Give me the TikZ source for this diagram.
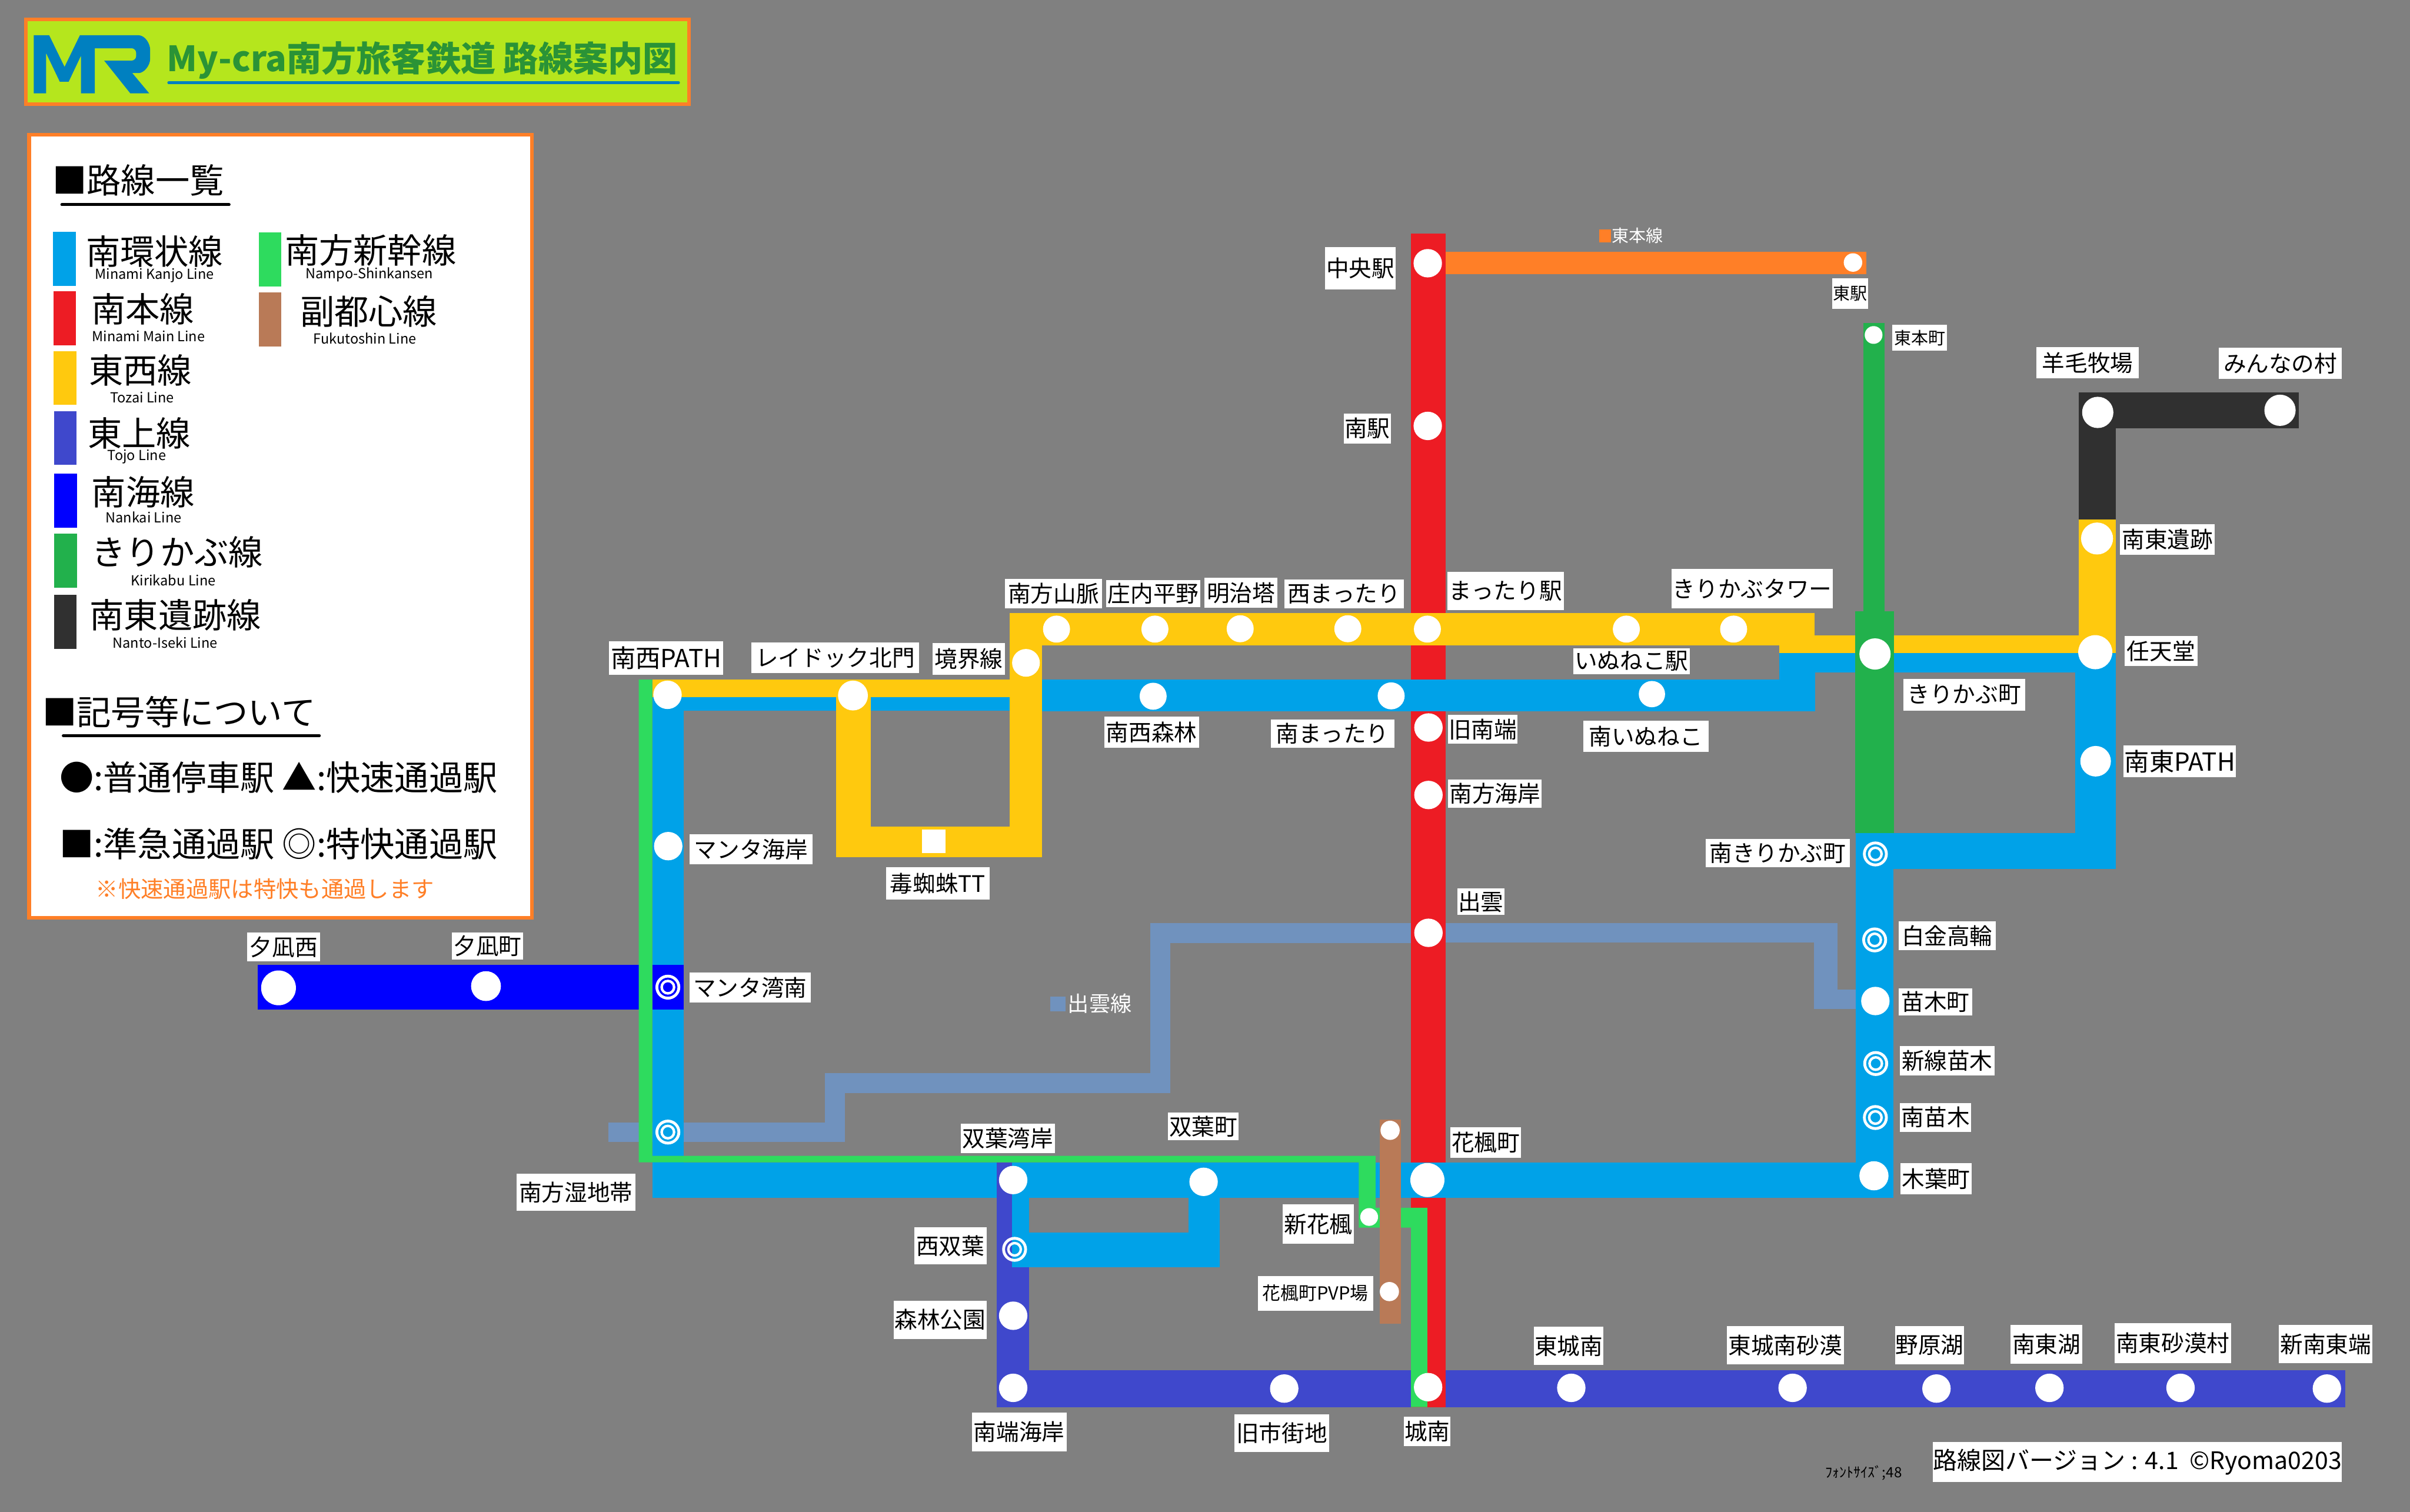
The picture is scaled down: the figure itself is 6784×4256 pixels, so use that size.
\documentclass[tikz,border=0pt]{standalone}
\usepackage{fontspec}
\setmainfont{Noto Sans CJK JP}
\definecolor{bg}{HTML}{808080}
\definecolor{cBlue}{HTML}{00A2E8}
\definecolor{cRed}{HTML}{ED1C24}
\definecolor{cYel}{HTML}{FFC90E}
\definecolor{cToj}{HTML}{3F48CC}
\definecolor{cNan}{HTML}{0000FF}
\definecolor{cKir}{HTML}{22B14C}
\definecolor{cDark}{HTML}{303030}
\definecolor{cShin}{HTML}{2EDB5E}
\definecolor{cBrown}{HTML}{B97A57}
\definecolor{cOr}{HTML}{FF7F27}
\definecolor{cIzu}{HTML}{7092BE}
\definecolor{cLime}{HTML}{B5E61D}
\definecolor{cLogo}{HTML}{0080C0}
\definecolor{cTitle}{HTML}{2A9336}
\newcommand\fsz[1]{\fontsize{#1}{#1}\selectfont}
\tikzset{
  stnbase/.style={circle,fill=white,inner sep=0pt},
  ringo/.style={circle,draw=white,line width=1.6pt,inner sep=0pt,minimum size=12.4pt},
  ringi/.style={circle,draw=white,line width=1.4pt,inner sep=0pt,minimum size=7pt},
  lbox/.style={fill=white,inner sep=0pt,font=\fsz{12.8}},
  big/.style={inner sep=0pt,font=\fsz{19.3}},
  eng/.style={inner sep=0pt,font=\fsz{7.8}},
  rule/.style={line width=1.6pt,line cap=round},
}
\newcommand\stnode[4]{\node[stnbase,minimum size=#4*0.4pt] (#1) at (#2,#3) {};}
\newcommand\dbl[3]{\node[ringo] (#1) at (#2,#3) {};\node[ringi] (#1i) at (#2,#3) {};}
\newcommand\lab[6][]{%
  \pgfmathsetmacro\cxx{(#3+#5)/2}\pgfmathsetmacro\cyy{(#4+#6)/2}%
  \pgfmathsetmacro\ww{(#5-#3)*0.2}\pgfmathsetmacro\hh{(#6-#4)*0.2}%
  \node[lbox,minimum width=\ww pt,minimum height=\hh pt,#1] (#2) at (\cxx,\cyy) {\labtext};}
\newcommand\labtext{}
\newcommand\lb[7][]{\renewcommand\labtext{#7}\lab[#1]{#2}{#3}{#4}{#5}{#6}}
\newcommand\rc[5]{\fill[#1] (#2,#3) rectangle (#4,#5);}
\begin{document}
\begin{tikzpicture}[x=0.2pt,y=-0.2pt]
\useasboundingbox (0,0) rectangle (6784,4256);
\fill[bg] (0,0) rectangle (6784,4256);
% title panel
\node[draw=cOr,fill=cLime,line width=2pt,inner sep=0pt,minimum width=373.4pt,minimum height=47.6pt] (titlebox) at (1006.5,174) {};
\fill[cLogo] (95,99) -- (138.3,99) -- (181.7,188.3) -- (225,99) -- (388.3,99)
  .. controls (410,99) and (422.7,125) .. (422.7,140) -- (422.7,165)
  .. controls (422.7,185) and (405,205.7) .. (390,205.7) -- (372.3,205.7) -- (420,262.7) -- (366.7,262.7) -- (293.3,170.7) -- (370,170.7)
  .. controls (377,170.7) and (383.3,165) .. (383.3,158.3) -- (383.3,148.3)
  .. controls (383.3,142) and (377,136) .. (371.7,136) -- (266.7,136) -- (266.7,262.7) -- (228,262.7) -- (228,156.7) -- (193.3,230) -- (168.3,230) -- (130,150) -- (130,262.7) -- (95,262.7) -- cycle;
\node[inner sep=0pt,text=cTitle,font=\fsz{19.6}\bfseries] (titletext) at (1189,170) {My-cra南方旅客鉄道 路線案内図};
\draw[cLogo,rule] (475,233) -- (1910,233);
% legend panel
\node[draw=cOr,fill=white,line width=2pt,inner sep=0pt,minimum width=283.2pt,minimum height=440.6pt] (legendbox) at (790,1481.5) {};
\node[big] (lgA) at (389,507) {■路線一覧};
\draw[rule,black] (174,576) -- (645,576);
\rc{cBlue}{149}{653}{213}{805}
\node[big] (lg1) at (435,707) {南環状線};
\node[eng] (lg1e) at (435,775) {Minami Kanjo Line};
\rc{cRed}{150}{820}{214}{972}
\node[big] (lg2) at (402,870) {南本線};
\node[eng] (lg2e) at (418,946) {Minami Main Line};
\rc{cYel}{150}{988}{215}{1140}
\node[big] (lg3) at (395,1043) {東西線};
\node[eng] (lg3e) at (400,1119) {Tozai Line};
\rc{cToj}{152}{1158}{215}{1309}
\node[big] (lg4) at (392,1219) {東上線};
\node[eng] (lg4e) at (385,1285) {Tojo Line};
\rc{cNan}{153}{1334}{217}{1486}
\node[big] (lg5) at (403,1385) {南海線};
\node[eng] (lg5e) at (404,1457) {Nankai Line};
\rc{cKir}{153}{1503}{217}{1655}
\node[big] (lg6) at (499,1554) {きりかぶ線};
\node[eng] (lg6e) at (488,1633) {Kirikabu Line};
\rc{cDark}{152}{1675}{216}{1827}
\node[big] (lg7) at (494,1731) {南東遺跡線};
\node[eng] (lg7e) at (465,1809) {Nanto-Iseki Line};
\rc{cShin}{728}{654}{792}{806}
\node[big] (lg8) at (1043,705) {南方新幹線};
\node[eng] (lg8e) at (1040,773) {Nampo-Shinkansen};
\rc{cBrown}{728}{823}{792}{975}
\node[big] (lg9) at (1038,876) {副都心線};
\node[eng] (lg9e) at (1027,952) {Fukutoshin Line};
\node[big] (lgB) at (504,2005) {■記号等について};
\draw[rule,black] (178,2071) -- (899,2071);
\node[big] (lgC) at (784,2188) {●:普通停車駅 ▲:快速通過駅};
\node[big] (lgD) at (784,2376) {■:準急通過駅 ◎:特快通過駅};
\node[inner sep=0pt,text=cOr,font=\fsz{12.7}] (lgE) at (746,2503) {※快速通過駅は特快も通過します};
% Izumo
\rc{cIzu}{4000}{2598}{5172}{2654}
\rc{cIzu}{3238}{2598}{4000}{2655}
\rc{cIzu}{5106}{2598}{5172}{2841}
\rc{cIzu}{5106}{2785}{5240}{2841}
\rc{cIzu}{3238}{2598}{3295}{3078}
\rc{cIzu}{2322}{3021}{3295}{3078}
\rc{cIzu}{2322}{3021}{2379}{3215}
\rc{cIzu}{1712}{3160}{2379}{3215}
\rc{cIzu}{2957}{2805}{3000}{2847}
\node[inner sep=0pt,text=white,font=\fsz{12}] (izulbl) at (3096,2825) {出雲線};
\rc{cOr}{4501}{646}{4535}{682}
\node[inner sep=0pt,text=white,font=\fsz{9.6}] (higlbl) at (4610,663) {東本線};
% Tojo
\rc{cToj}{2806}{3272}{2897}{3961}
\rc{cToj}{2806}{3858}{6602}{3961}
% Red
\rc{cRed}{3971}{658}{4069}{3962}
% Orange
\rc{cOr}{4069}{709}{5253}{771}
% Kirikabu thin
\rc{cKir}{5245}{910}{5305}{1725}
% Blue
\rc{cBlue}{1836}{1913}{1925}{3272}
\rc{cBlue}{1836}{1962}{2842}{2001}
\rc{cBlue}{2933}{1913}{5109}{2002}
\rc{cBlue}{5008}{1839}{5109}{2002}
\rc{cBlue}{5008}{1839}{5224}{1893}
\rc{cBlue}{5331}{1839}{5955}{1893}
\rc{cBlue}{5842}{1839}{5955}{2446}
\rc{cBlue}{5224}{2345}{5955}{2446}
\rc{cBlue}{5224}{2345}{5330}{3371}
\rc{cBlue}{1836}{3272}{5330}{3372}
\rc{cBlue}{2848}{3372}{2897}{3568}
\rc{cBlue}{2848}{3470}{3434}{3568}
\rc{cBlue}{3345}{3372}{3434}{3568}
\rc{cToj}{2806}{3272}{2848}{3372}
% Nankai
\rc{cNan}{725}{2717}{1798}{2842}
\rc{cNan}{1836}{2717}{1925}{2842}
% Yellow
\rc{cYel}{2842}{1725}{5107}{1817}
\rc{cYel}{5008}{1788}{5222}{1839}
\rc{cYel}{5331}{1788}{5955}{1839}
\rc{cYel}{5852}{1463}{5955}{1839}
\rc{cYel}{1836}{1913}{2842}{1962}
\rc{cYel}{2842}{1725}{2933}{2413}
\rc{cYel}{2354}{1913}{2452}{2413}
\rc{cYel}{2354}{2327}{2933}{2413}
\rc{white}{2595}{2335}{2662}{2402}
% Dark
\rc{cDark}{5852}{1104}{5955}{1463}
\rc{cDark}{5852}{1104}{6471}{1206}
% Kirikabu wide
\rc{cKir}{5222}{1721}{5331}{2345}
% Shinkansen
\fill[cShin] (1798,1913) -- (1836,1913) -- (1836,3254) -- (3872,3254) -- (3872,3400) -- (4018,3400) -- (4018,3961) -- (3972,3961) -- (3972,3456) -- (3825,3456) -- (3825,3272) -- (1798,3272) -- cycle;
% Brown
\rc{cBrown}{3884}{3151}{3943}{3726}
% stations
\stnode{s1}{4019}{741}{40}
\stnode{s2}{4019}{1199}{40}
\stnode{s3}{5216}{739}{26}
\stnode{s4}{5274}{943}{25}
\stnode{s5}{5278}{1841}{44}
\stnode{s6}{5905}{1161}{44}
\stnode{s7}{6418}{1155}{44}
\stnode{s8}{5903}{1516}{45}
\stnode{s9}{5898}{1836}{48}
\stnode{s10}{5899}{2143}{43}
\stnode{s11}{2974}{1771}{38}
\stnode{s12}{3251}{1771}{38}
\stnode{s13}{3491}{1770}{38}
\stnode{s14}{3794}{1770}{38}
\stnode{s15}{4018}{1771}{38}
\stnode{s16}{4578}{1771}{38}
\stnode{s17}{4880}{1771}{38}
\stnode{s18}{2888}{1866}{39}
\stnode{s19}{1879}{1956}{40}
\stnode{s20}{2401}{1958}{42}
\stnode{s21}{3246}{1960}{38}
\stnode{s22}{3916}{1959}{38}
\stnode{s23}{4650}{1954}{37}
\stnode{s24}{4021}{2048}{40}
\stnode{s25}{4021}{2238}{40}
\stnode{s26}{4021}{2626}{40}
\stnode{s27}{1881}{2382}{40}
\stnode{s28}{784}{2781}{49}
\stnode{s29}{1368}{2776}{42}
\stnode{s30}{5279}{2818}{40}
\stnode{s31}{5275}{3310}{41}
\stnode{s32}{4018}{3322}{48}
\stnode{s33}{2852}{3322}{40}
\stnode{s34}{3388}{3327}{40}
\stnode{s35}{3854}{3426}{25}
\stnode{s36}{3913}{3182}{27}
\stnode{s37}{3911}{3636}{27}
\stnode{s38}{2852}{3704}{40}
\stnode{s39}{2852}{3907}{40}
\stnode{s40}{3615}{3909}{40}
\stnode{s41}{4020}{3905}{40}
\stnode{s42}{4423}{3907}{40}
\stnode{s43}{5046}{3907}{40}
\stnode{s44}{5451}{3909}{40}
\stnode{s45}{5769}{3907}{40}
\stnode{s46}{6138}{3907}{40}
\stnode{s47}{6550}{3909}{40}
\dbl{d1}{1880}{2779}
\dbl{d2}{1880}{3187}
\dbl{d3}{2856}{3517}
\dbl{d4}{5279}{2404}
\dbl{d5}{5277}{2646}
\dbl{d6}{5280}{2994}
\dbl{d7}{5279}{3146}
% labels
\lb[font=\fsz{14}]{t1}{1714}{1805}{2036}{1899}{南西PATH}
\lb{t2}{2115}{1809}{2587}{1895}{レイドック北門}
\lb{t3}{2625}{1811}{2829}{1899}{境界線}
\lb{t4}{2829}{1629}{3102}{1712}{南方山脈}
\lb{t5}{3114}{1633}{3379}{1710}{庄内平野}
\lb{t6}{3391}{1627}{3596}{1711}{明治塔}
\lb{t7}{3615}{1631}{3951}{1713}{西まったり}
\lb{t8}{4074}{1610}{4402}{1718}{まったり駅}
\lb{t9}{4706}{1601}{5159}{1713}{きりかぶタワー}
\lb{t10}{4428}{1825}{4757}{1898}{いぬねこ駅}
\lb{t11}{3108}{2018}{3375}{2105}{南西森林}
\lb{t12}{3577}{2025}{3925}{2105}{南まったり}
\lb{t13}{4457}{2029}{4809}{2117}{南いぬねこ}
\lb{t14}{4076}{2013}{4272}{2094}{旧南端}
\lb{t15}{4076}{2195}{4340}{2274}{南方海岸}
\lb{t16}{4102}{2501}{4235}{2576}{出雲}
\lb{t17}{1941}{2348}{2287}{2433}{マンタ海岸}
\lb{t18}{2494}{2442}{2786}{2533}{毒蜘蛛TT}
\lb{t19}{3730}{695}{3929}{815}{中央駅}
\lb{t20}{3782}{1164}{3916}{1248}{南駅}
\lb[font=\fsz{9.6}]{t21}{5157}{784}{5259}{869}{東駅}
\lb[font=\fsz{9.6}]{t22}{5327}{915}{5480}{987}{東本町}
\lb{t23}{5733}{977}{6020}{1065}{羊毛牧場}
\lb{t24}{6246}{979}{6592}{1067}{みんなの村}
\lb{t25}{5968}{1475}{6234}{1561}{南東遺跡}
\lb{t26}{5980}{1791}{6186}{1875}{任天堂}
\lb{t27}{5358}{1911}{5700}{2000}{きりかぶ町}
\lb[font=\fsz{14}]{t28}{5978}{2099}{6294}{2188}{南東PATH}
\lb{t29}{4801}{2362}{5207}{2441}{南きりかぶ町}
\lb{t30}{5344}{2594}{5618}{2675}{白金高輪}
\lb{t31}{5344}{2782}{5552}{2858}{苗木町}
\lb{t32}{5348}{2944}{5614}{3027}{新線苗木}
\lb{t33}{5348}{3105}{5549}{3186}{南苗木}
\lb{t34}{5350}{3275}{5550}{3362}{木葉町}
\lb{t35}{4082}{3174}{4282}{3259}{花楓町}
\lb{t36}{4318}{3735}{4513}{3843}{東城南}
\lb{t37}{4861}{3733}{5190}{3841}{東城南砂漠}
\lb{t38}{5334}{3733}{5529}{3841}{野原湖}
\lb{t39}{5660}{3730}{5861}{3839}{南東湖}
\lb{t40}{5952}{3725}{6280}{3838}{南東砂漠村}
\lb{t41}{6415}{3730}{6678}{3837}{新南東端}
\lb[font=\fsz{13.6}]{t42}{5442}{4059}{6591}{4172}{路線図バージョン : 4.1\ \ ©Ryoma0203}
\node[inner sep=0pt,font=\fsz{8}] (t43) at (5246,4146) {ﾌｫﾝﾄｻｲｽﾞ;48};
\lb{t44}{1941}{2738}{2282}{2823}{マンタ湾南}
\lb{t45}{2704}{3163}{2970}{3247}{双葉湾岸}
\lb{t46}{3288}{3132}{3486}{3210}{双葉町}
\lb{t47}{1454}{3304}{1788}{3409}{南方湿地帯}
\lb{t48}{2573}{3455}{2777}{3560}{西双葉}
\lb{t49}{2516}{3662}{2777}{3769}{森林公園}
\lb{t50}{2736}{3977}{3002}{4086}{南端海岸}
\lb{t51}{3475}{3981}{3741}{4087}{旧市街地}
\lb{t52}{3952}{3989}{4083}{4071}{城南}
\lb{t53}{3611}{3390}{3811}{3502}{新花楓}
\lb[font=\fsz{10.2}]{t54}{3541}{3592}{3865}{3690}{花楓町PVP場}
\lb{t55}{695}{2625}{901}{2707}{夕凪西}
\lb{t56}{1272}{2625}{1472}{2701}{夕凪町}
\end{tikzpicture}
\end{document}
